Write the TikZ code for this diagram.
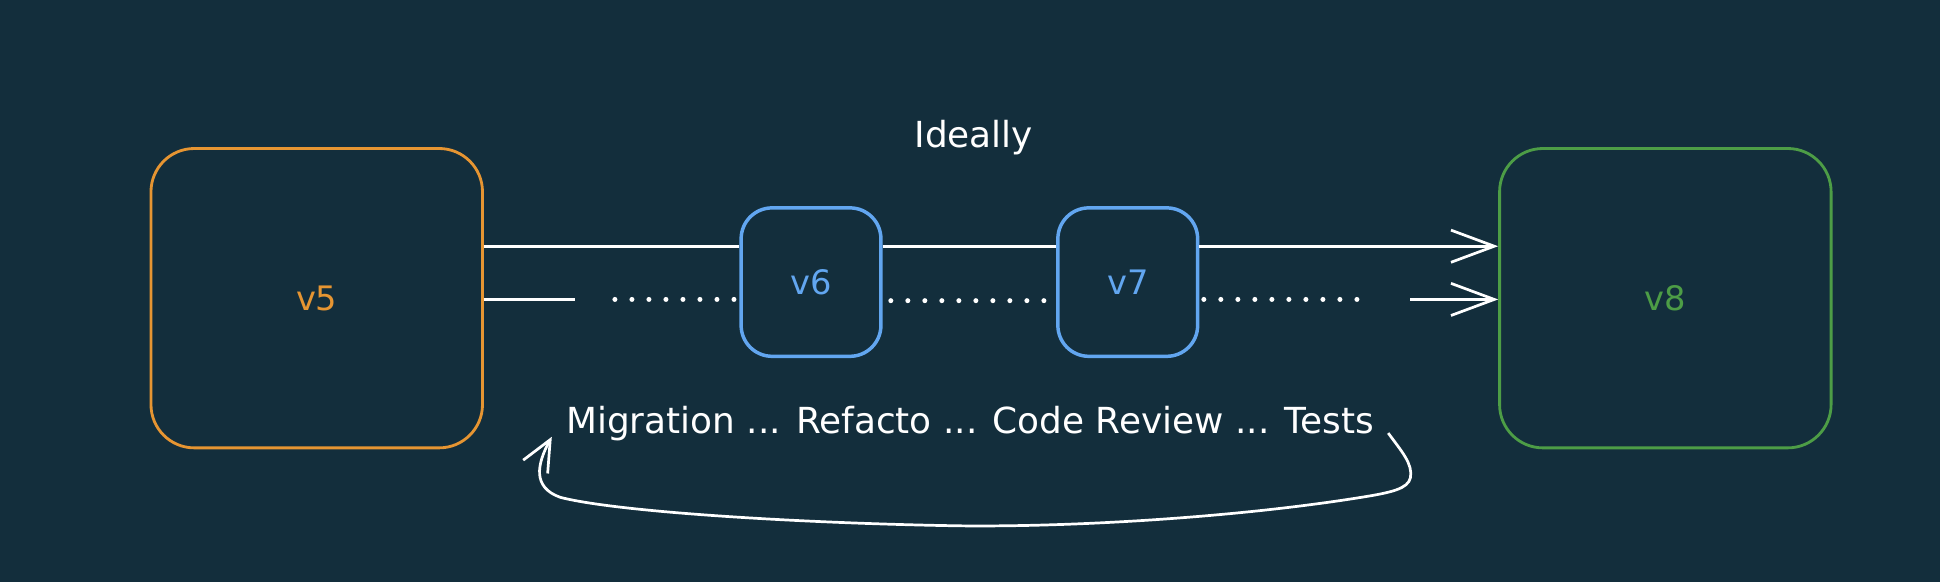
\documentclass[tikz,border=0pt]{standalone}
\usepackage{fontspec}
\setmainfont{DejaVu Sans}
\usetikzlibrary{arrows.meta,calc}
\definecolor{bgteal}{RGB}{19,46,60}
\definecolor{vorange}{RGB}{230,149,50}
\definecolor{vblue}{RGB}{98,166,240}
\definecolor{vgreen}{RGB}{77,157,70}
\tikzset{
	release/.style={draw, rounded corners=0.7cm, line width=1.3pt, minimum width=5.36cm, minimum height=4.84cm, font=\fontsize{15.5}{18}\selectfont},
	minor/.style={draw=vblue, text=vblue, rounded corners=0.5cm, line width=1.6pt, minimum width=2.26cm, minimum height=2.4cm, font=\fontsize{15.5}{18}\selectfont},
	track/.style={white, line width=1.25pt},
	dots/.style={white, line width=2.3pt, line cap=round, dash pattern=on 0pt off 0.275cm},
	barb/.style={-{Straight Barb[length=0.7cm,width=0.52cm]}},
	note/.style={white, font=\fontsize{16.5}{19}\selectfont}
}

\begin{document}
\begin{tikzpicture}[x=0.02cm, y=-0.02cm]
		%%%%% START %%%%%
		
		\fill[bgteal] (0, 0) rectangle (1568, 470.4);
		
		\node[release, draw=vorange, text=vorange] (v5) at (256, 241) {v5};
		\node[minor] (v6) at (655.5, 228) {v6};
		\node[minor] (v7) at (911.5, 228) {v7};
		\node[release, draw=vgreen, text=vgreen] (v8) at (1346, 241) {v8};
		
		\node[note, anchor=base] (ideal) at (787, 119) {Ideally};
		\node[note, anchor=base] (steps) at (784, 350) {Migration ... Refacto ... Code Review ... Tests};
		
		\coordinate (hi) at (0, 199);
		\coordinate (lo) at (0, 242);
		
		% top: the ideal path
		\draw[track] (v5.east |- hi) -- (v6.west |- hi);
		\draw[track] (v6.east |- hi) -- (v7.west |- hi);
		\draw[track, barb] (v7.east |- hi) -- (v8.west |- hi);
		
		% bottom: the dotted path
		\coordinate (cutA) at (465, 242);
		\coordinate (dotA) at (497, 242);
		\coordinate (dotB) at (720, 243);
		\coordinate (dotC) at (973, 242);
		\coordinate (dotD) at (1098, 242);
		\coordinate (cutB) at (1140, 242);
		\draw[track] (v5.east |- lo) -- (cutA);
		\draw[dots] (dotA) -- (v6.west |- dotA);
		\draw[dots] (dotB) -- (v7.west |- dotB);
		\draw[dots] (dotC) -- (dotD);
		\draw[track, barb] (cutB) -- (v8.west |- lo);
		
		% loop back under the steps
		\coordinate (loopA) at (1122, 350);
		\coordinate (loopB) at (446, 353);
		\draw[track, -{Straight Barb[length=0.5cm,width=0.45cm]}] (loopA) .. controls (1133, 365) and (1142, 375) .. (1140, 386)
			.. controls (1138, 395) and (1125, 398) .. (1100, 402)
			.. controls (1000, 418) and (870, 426) .. (776, 425)
			.. controls (650, 423) and (500, 414) .. (453, 402)
			.. controls (430, 394) and (434, 375) .. (loopB);
		
		%%%%% END %%%%%
	\end{tikzpicture}
\end{document}
